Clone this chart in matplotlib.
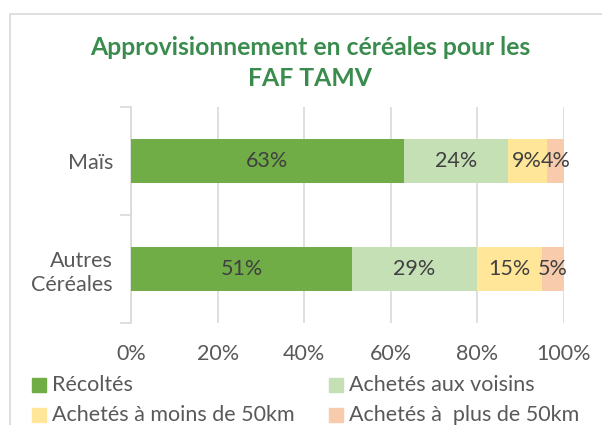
import matplotlib
matplotlib.use('Agg')
import matplotlib.pyplot as plt
from matplotlib.patches import Rectangle
import numpy as np

plt.rcParams['font.family'] = ['Lato', 'DejaVu Sans']

categories = ["Maïs", "Autres\nCéréales"]
series_names = ["Récoltés", "Achetés aux voisins",
                "Achetés à moins de 50km", "Achetés à  plus de 50km"]
recoltes = [63, 51]
voisins = [24, 29]
moins_50 = [9, 15]
plus_50 = [4, 5]
x_ticks = [0, 20, 40, 60, 80, 100]
x_ticklabels = ["0%", "20%", "40%", "60%", "80%", "100%"]

COLORS = ["#70AD47", "#C5E0B4", "#FFE699", "#F8CBAD"]
TXT = "#595959"

W, H = 602, 425
fig = plt.figure(figsize=(W / 100, H / 100), dpi=100)

# chart border (runs off the right and bottom edges)
fig.patches.append(Rectangle((10 / W, -0.05), 1.0, (H - 14) / H + 0.05,
                             transform=fig.transFigure, fill=False,
                             edgecolor="#D9D9D9", linewidth=1.2))

ax = fig.add_axes([131 / W, 1 - 323 / H, 433 / W, 216 / H])

series = [recoltes, voisins, moins_50, plus_50]
y = np.arange(len(categories))
left = np.zeros(len(categories))
for vals, col in zip(series, COLORS):
    vals = np.array(vals, dtype=float)
    ax.barh(y, vals, left=left, height=0.4, color=col, zorder=3)
    for yi, v, l in zip(y, vals, left):
        ax.text(l + v / 2, yi, f"{int(v)}%", ha='center', va='center',
                fontsize=15.5, color="#404040", zorder=4)
    left += vals

ax.set_xlim(0, 100)
ax.set_ylim(1.5, -0.5)
ax.set_xticks(x_ticks)
ax.set_xticklabels(x_ticklabels, fontsize=15.5, color=TXT)
ax.tick_params(axis='x', length=0, pad=15)
ax.grid(axis='x', color="#D9D9D9", linewidth=1.2, zorder=0)

ax.set_yticks([-0.5, 0.5, 1.5], minor=False)
ax.set_yticklabels([])
ax.tick_params(axis='y', length=8, width=1.2, color="#D9D9D9")
ax.set_yticks(y, minor=True)
ax.set_yticklabels(categories, minor=True, fontsize=15.5, color=TXT,
                   linespacing=1.25)
ax.tick_params(axis='y', which='minor', length=0, pad=13)

for s in ['top', 'right', 'bottom']:
    ax.spines[s].set_visible(False)
ax.spines['left'].set_color("#D9D9D9")
ax.spines['left'].set_linewidth(1.2)

fig.text(310 / W, 1 - 63 / H, "Approvisionnement en céréales pour les\nFAF TAMV",
         ha='center', va='center', fontsize=17.8, fontweight='bold',
         color="#3A8C4E", linespacing=1.42)

# legend, two rows of two
pos = [(32, 385), (329, 385), (32, 415), (329, 415)]
for (px, py), name, col in zip(pos, series_names, COLORS):
    fig.patches.append(Rectangle((px / W, 1 - (py + 7) / H), 14 / W, 14 / H,
                                 transform=fig.transFigure, color=col))
    fig.text((px + 20) / W, 1 - py / H, name, ha='left', va='center',
             fontsize=15.5, color=TXT)

fig.savefig("out.png", dpi=100)
